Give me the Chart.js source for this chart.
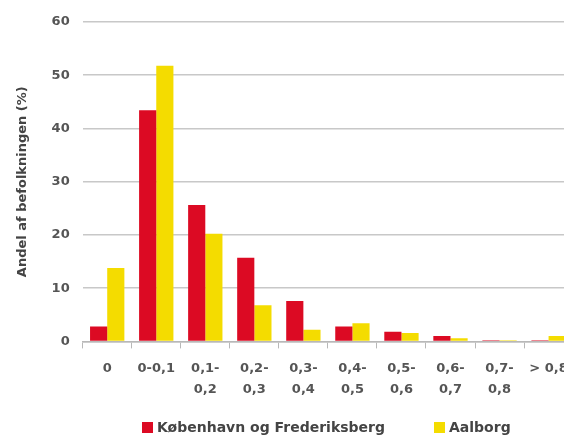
<!DOCTYPE html>
<html>
<head>
<meta charset="utf-8">
<script src="https://cdn.jsdelivr.net/npm/chart.js@4/dist/chart.umd.min.js"></script>
<style>
  html, body { margin: 0; padding: 0; background: #fff; overflow: hidden; }
  #wrap { position: relative; width: 564px; height: 437px; overflow: hidden; filter: blur(0.5px); }
  #box { position: absolute; left: 0; top: 0; width: 578px; height: 410px; }
  #legend { position: absolute; left: 0; top: 419px; width: 564px; height: 16px;
            font: bold 14px "DejaVu Sans", Verdana, sans-serif; color: #444; white-space: nowrap; }
  #legend .item { position: absolute; top: 0; display: flex; align-items: center; height: 16px; }
  #legend .sw { width: 11px; height: 11px; margin-right: 4px; }
</style>
</head>
<body>
<div id="wrap">
  <div id="box"><canvas id="c"></canvas></div>
  <div id="legend"></div>
</div>
<script>
// Income intervals (x axis); every label has two lines so they all start on the same row
const categories = [
  ['0', ''], ['0-0,1', ''], ['0,1-', '0,2'], ['0,2-', '0,3'], ['0,3-', '0,4'],
  ['0,4-', '0,5'], ['0,5-', '0,6'], ['0,6-', '0,7'], ['0,7-', '0,8'], ['> 0,8', '']
];
// Share of population (%)
const kobenhavn = [2.8, 43.4, 25.6, 15.7, 7.6, 2.8, 1.8, 1.0, 0.2, 0.2];
const aalborg   = [13.8, 51.8, 20.2, 6.8, 2.2, 3.4, 1.6, 0.6, 0.2, 1.0];
const seriesNames = ['København og Frederiksberg', 'Aalborg'];
const seriesColors = ['#dc0a23', '#f4dc00'];
const yTicks = [0, 10, 20, 30, 40, 50, 60];
const yTitle = 'Andel af befolkningen (%)';

const FONT = '"DejaVu Sans", Verdana, sans-serif';

new Chart(document.getElementById('c'), {
  type: 'bar',
  data: {
    labels: categories,
    datasets: [
      { label: seriesNames[0], data: kobenhavn, backgroundColor: seriesColors[0] },
      { label: seriesNames[1], data: aalborg, backgroundColor: seriesColors[1] }
    ]
  },
  options: {
    responsive: true,
    maintainAspectRatio: false,
    animation: false,
    layout: { padding: { top: 22, right: 4, left: 0, bottom: 0 } },
    datasets: { bar: { categoryPercentage: 0.7, barPercentage: 1.0 } },
    plugins: { legend: { display: false }, tooltip: { enabled: false } },
    scales: {
      x: {
        grid: { offset: true, drawOnChartArea: false, drawTicks: true, tickLength: 7, color: '#b8b8b8', lineWidth: 1 },
        border: { display: true, color: '#b8b8b8', width: 1.5 },
        ticks: { color: '#555', font: { family: FONT, size: 13, weight: 'bold', lineHeight: 1.6 }, padding: 10, maxRotation: 0, autoSkip: false }
      },
      y: {
        min: yTicks[0],
        max: yTicks[yTicks.length - 1],
        afterBuildTicks: (axis) => { axis.ticks = yTicks.map(v => ({ value: v })); },
        grid: { color: '#c8c8c8', lineWidth: 1.5, drawTicks: false },
        border: { display: false },
        ticks: { color: '#555', font: { family: FONT, size: 13, weight: 'bold' }, padding: 13 },
        title: { display: true, text: yTitle, color: '#444', font: { family: FONT, size: 13, weight: 'bold' }, padding: { top: 15, bottom: 8 } }
      }
    }
  }
});

// Legend row
const legend = document.getElementById('legend');
const legendLeft = [142, 434];
seriesNames.forEach((name, i) => {
  const item = document.createElement('div');
  item.className = 'item';
  item.style.left = legendLeft[i] + 'px';
  const sw = document.createElement('div');
  sw.className = 'sw';
  sw.style.background = seriesColors[i];
  const t = document.createElement('span');
  t.textContent = name;
  item.appendChild(sw);
  item.appendChild(t);
  legend.appendChild(item);
});
</script>
</body>
</html>
